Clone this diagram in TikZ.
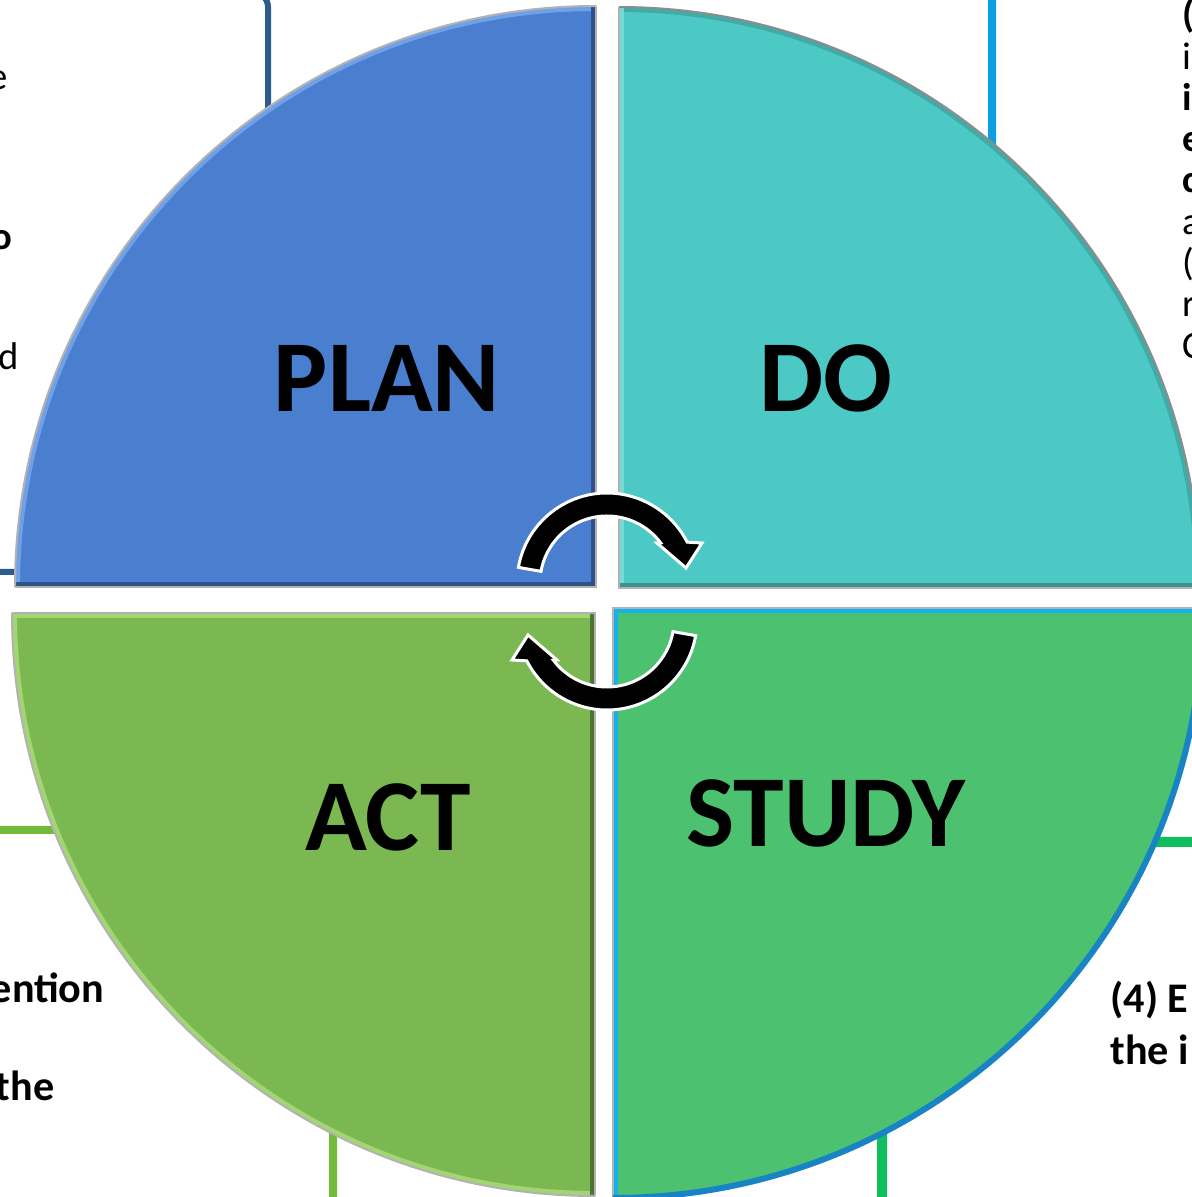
\documentclass[tikz,border=0pt]{standalone}
\usepackage{fontspec}
\setmainfont{Carlito}
\usetikzlibrary{calc}
\definecolor{plancol}{RGB}{74,126,207}
\definecolor{planlight}{RGB}{112,160,232}
\definecolor{plandark}{RGB}{48,80,138}
\definecolor{docol}{RGB}{76,201,197}
\definecolor{dolight}{RGB}{118,218,214}
\definecolor{dodark}{RGB}{60,146,144}
\definecolor{actcol}{RGB}{123,184,82}
\definecolor{actlight}{RGB}{162,214,114}
\definecolor{actdark}{RGB}{78,116,52}
\definecolor{studycol}{RGB}{76,194,112}
\definecolor{studylight}{RGB}{20,178,236}
\definecolor{studyedge}{RGB}{24,132,196}
\definecolor{tlline}{RGB}{44,92,140}
\definecolor{trline}{RGB}{10,160,226}
\definecolor{blline}{RGB}{116,186,60}
\definecolor{brline}{RGB}{16,190,96}

\begin{document}
\begin{tikzpicture}
  \tikzstyle{phase} = [anchor=base, inner sep=0pt, font=\fontsize{29}{35}\selectfont\bfseries]
  \tikzstyle{sidetext} = [inner sep=0pt, font=\fontsize{11}{13}\selectfont]
  \tikzstyle{sidebold} = [inner sep=0pt, font=\fontsize{12}{14}\selectfont\bfseries]
  \tikzstyle{bgbox} = [rounded corners=0.15cm, line width=0.08cm]
  \tikzstyle{cyclearrow} = [fill=black, draw=white, line width=0.03cm]
  \tikzstyle{rim} = [draw=black!30, line width=0.02cm]
  \useasboundingbox (0,0) rectangle (11.92,11.97);
  \clip (0,0) rectangle (11.92,11.97);
  \fill[white] (0,0) rectangle (11.92,11.97);
  % boxes behind the wheel
  \draw[bgbox, draw=tlline, line width=0.06cm] (-1,6.25) rectangle (2.68,12.05);
  \draw[bgbox, draw=trline] (9.92,6.37) rectangle (13,12.4);
  \draw[bgbox, draw=blline] (-1,-1) rectangle (3.33,3.67);
  \draw[bgbox, draw=brline, line width=0.1cm] (8.82,-1) rectangle (13,3.55);
  % cut-off text of the boxes
  \node[sidetext, anchor=base east] (tlE) at (0.08,11.07) {e};
  \node[sidetext, anchor=base east, font=\fontsize{11}{13}\selectfont\bfseries] (tlO) at (0.13,9.47) {o};
  \node[sidetext, anchor=base east] (tlD) at (0.20,8.27) {d};
  \node[sidebold, anchor=base east] (blEntion) at (1.05,1.95) {ention};
  \node[sidebold, anchor=base east] (blThe) at (0.55,0.97) {the};
  \node[sidebold, anchor=base west] (brFour) at (11.10,1.84) {(4) E};
  \node[sidebold, anchor=base west] (brThe) at (11.10,1.32) {the i};
  \foreach \t [count=\i from 0] in {{\textbf{(}}, {i}, {\textbf{i}}, {\textbf{e}}, {\textbf{c}}, {a}, {(}, {r}, {C}}
    \node[sidetext, anchor=base west] (tr\i) at (11.82,11.69-0.4125*\i) {\t};
  % the four quarters
  \foreach \cx/\cy/\r/\a/\b/\fc/\ea/\eb/\ec/\oc/\ow in {
      5.96/6.10/5.81/180/90/plancol/plandark/plandark/planlight/black!30/0.02cm,
      6.19/6.09/5.81/90/0/docol/dolight/dodark/docol!85!black/black!45/0.02cm,
      5.95/5.84/5.83/180/270/actcol/actlight/actdark/actlight/black!30/0.02cm,
      6.13/5.89/5.90/270/360/studycol/studylight/studylight/studycol/studyedge/0.06cm}
  {
    \begin{scope}
      \clip (\cx,\cy) -- ++(\a:\r) arc[start angle=\a, end angle=\b, radius=\r] -- cycle;
      \fill[fill=\fc] (\cx,\cy) -- ++(\a:\r) arc[start angle=\a, end angle=\b, radius=\r] -- cycle;
      \draw[draw=\ec, line width=0.1cm] (\cx,\cy) ++(\a:\r) arc[start angle=\a, end angle=\b, radius=\r];
      \draw[draw=\ea, line width=0.1cm] (\cx,\cy) -- ++(\a:\r);
      \draw[draw=\eb, line width=0.1cm] (\cx,\cy) -- ++(\b:\r);
    \end{scope}
    \draw[rim] (\cx,\cy) ++(\a:\r) -- (\cx,\cy) -- ++(\b:\r);
    \draw[draw=\oc, line width=\ow] (\cx,\cy) ++(\a:\r) arc[start angle=\a, end angle=\b, radius=\r];
  }
  \node[phase] (plan) at (3.87,7.85) {PLAN};
  \node[phase] (do) at (8.26,7.85) {DO};
  \node[phase] (act) at (3.88,3.47) {ACT};
  \node[phase] (study) at (8.26,3.50) {STUDY};
  % cycle arrows
  \foreach \ay/\rot in {6.14/0, 5.77/180}
  {
    \begin{scope}[shift={(6.07,\ay)}, rotate=\rot]
      \draw[cyclearrow] (170:0.90) arc[start angle=170, end angle=27, radius=0.90] -- (0.95,0.40) -- (0.79,0.15) -- (0.50,0.40) -- (37:0.67) arc[start angle=37, end angle=170, radius=0.67] -- cycle;
    \end{scope}
  }
\end{tikzpicture}
\end{document}
